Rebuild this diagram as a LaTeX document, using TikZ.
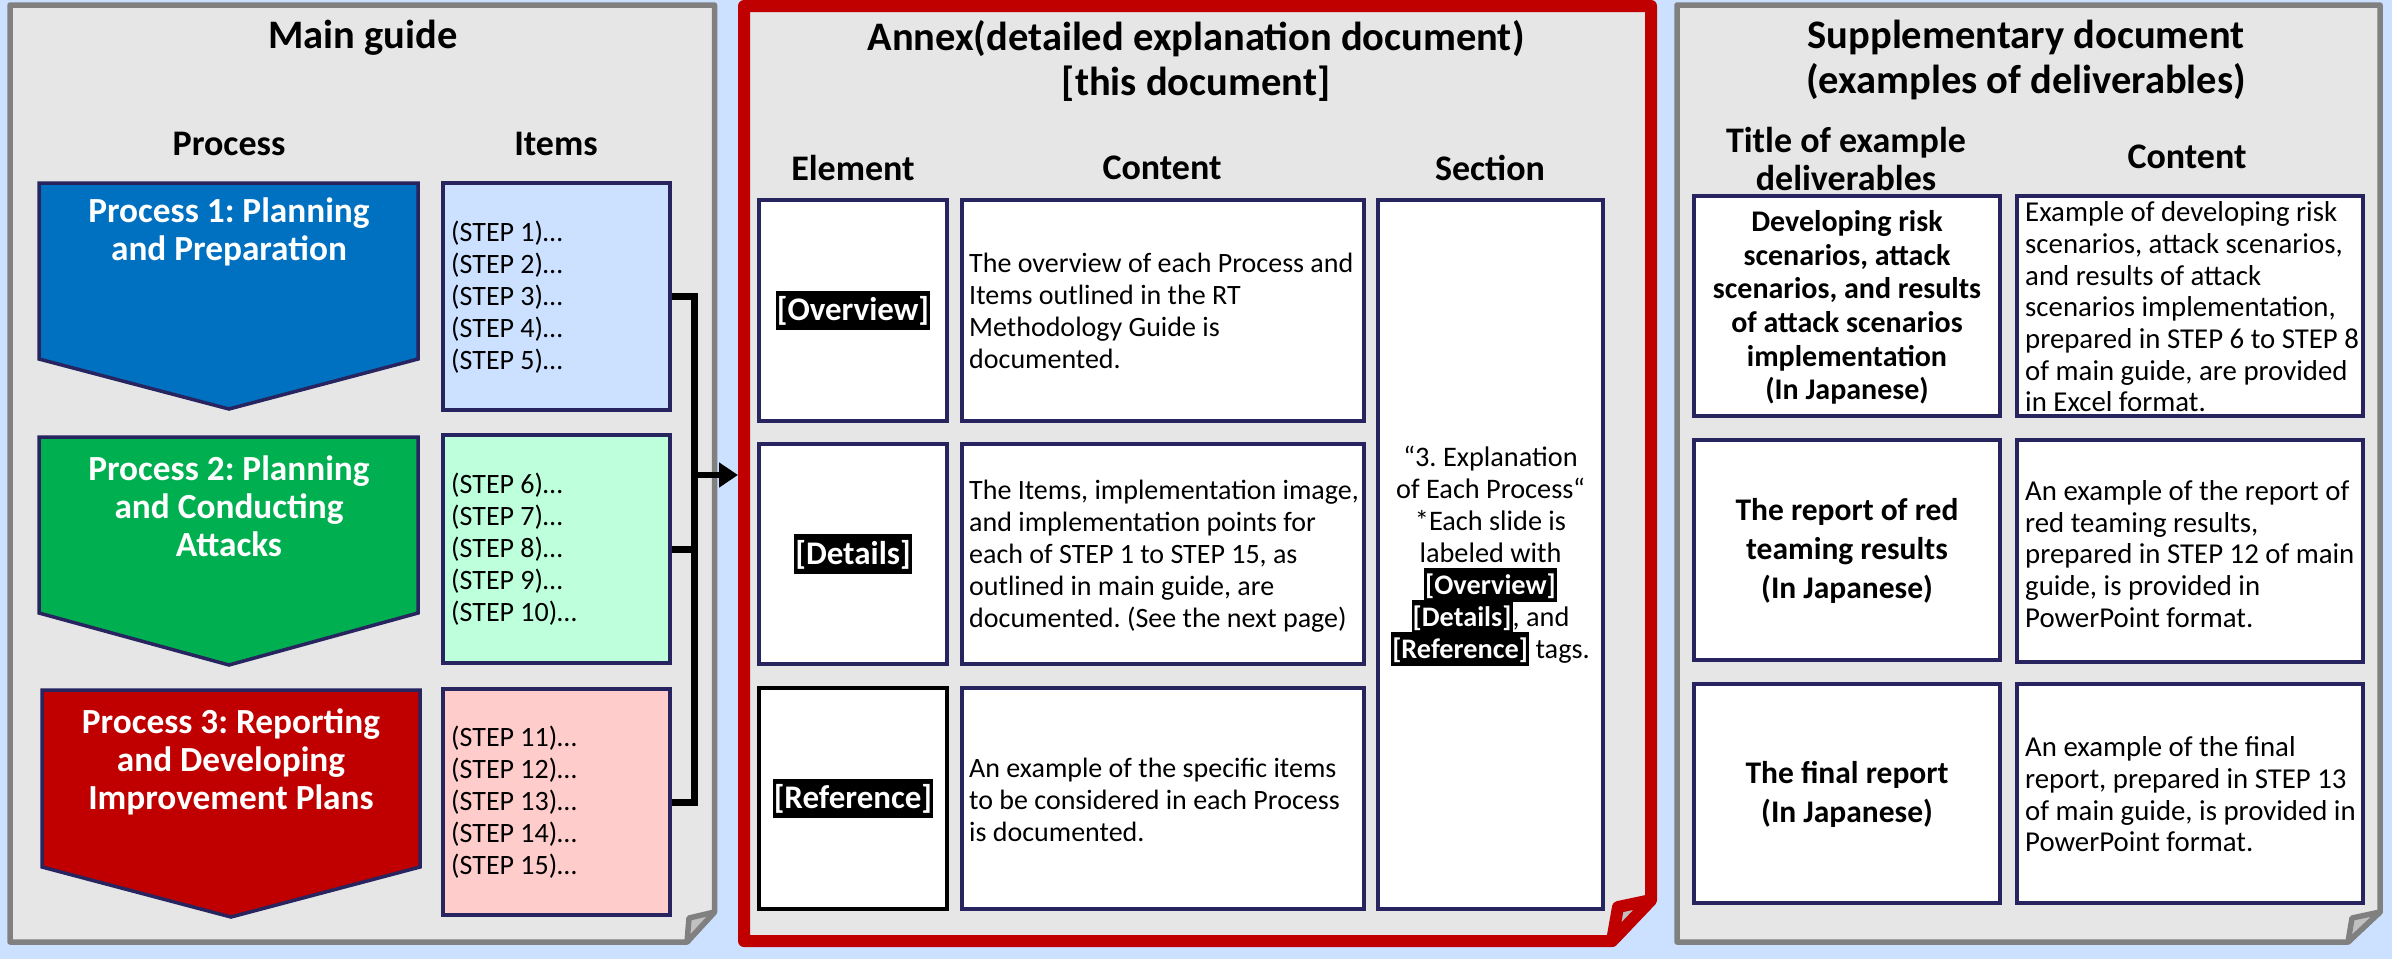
\documentclass[tikz,border=0pt]{standalone}
\usepackage{fontspec}
\setmainfont{Carlito}
\usetikzlibrary{arrows.meta}
\frenchspacing

\definecolor{bgblue}{RGB}{204,224,255}
\definecolor{panelgray}{RGB}{230,230,230}
\definecolor{panelline}{RGB}{128,128,128}
\definecolor{flapgray}{RGB}{192,192,192}
\definecolor{annexred}{RGB}{192,0,0}
\definecolor{navy}{RGB}{40,36,96}
\definecolor{procblue}{RGB}{0,112,192}
\definecolor{procgreen}{RGB}{0,176,80}
\definecolor{procred}{RGB}{192,0,0}
\definecolor{itemblue}{RGB}{204,224,255}
\definecolor{itemgreen}{RGB}{190,255,220}
\definecolor{itempink}{RGB}{255,204,204}

% white bold text on a black highlight
\newcommand\tagmark[1]{{\setlength{\fboxsep}{1pt}\colorbox{black}{\rule[-0.26em]{0pt}{1.15em}\textcolor{white}{\bfseries #1}}}}
% keep a fixed baseline distance even where highlights touch
\newcommand\fixedlines{\lineskiplimit=-100pt\relax}

\begin{document}
\begin{tikzpicture}[x=1pt,y=-1pt,
  panel/.style={fill=panelgray, draw=panelline, line width=5.5pt, line join=round},
  flap/.style={fill=flapgray, draw=panelline, line width=5.5pt, line join=round},
  redpanel/.style={fill=panelgray, draw=annexred, line width=12pt, line join=round},
  redflap/.style={fill=flapgray, draw=annexred, line width=12pt, line join=round},
  cell/.style={draw=navy, line width=3.5pt, fill=white, inner sep=0pt},
  proc/.style={draw=navy, line width=3.5pt, line join=miter},
  ttl/.style={font=\fontsize{40.5}{45}\selectfont\bfseries, align=center, inner sep=0pt},
  hdr/.style={font=\fontsize{36}{38}\selectfont\bfseries, align=center, inner sep=0pt},
  proctxt/.style={font=\fontsize{35.3}{38}\selectfont\bfseries, text=white, align=center, inner sep=0pt},
  body/.style={font=\fontsize{28}{32}\selectfont, align=left, inner sep=0pt, anchor=west},
  bodywide/.style={body, font=\fontsize{28.8}{31.7}\selectfont},
  secttxt/.style={font=\fontsize{28.3}{32}\selectfont\fixedlines, align=center, inner sep=0pt},
  tagtxt/.style={font=\fontsize{33}{38}\selectfont\bfseries, inner sep=0pt},
  dtitle/.style={font=\fontsize{30}{33.7}\selectfont\bfseries, align=center, inner sep=0pt},
  dtitlebig/.style={font=\fontsize{31.5}{39}\selectfont\bfseries, align=center, inner sep=0pt},
  wire/.style={line width=7pt, line join=miter}
]
% page
\fill[bgblue] (0,0) rectangle (2392,959);
\useasboundingbox (0,0) rectangle (2392,959);

% ---------------- Main guide ----------------
\draw[panel] (10,5) -- (714.5,5) -- (714.5,912) -- (687,942) -- (10,942) -- cycle;
\draw[flap] (714.5,912) -- (689,918) -- (687,942) -- cycle;

\node[ttl] (mgT) at (363,38) {Main guide};
\node[hdr] (mgP) at (229,144) {Process};
\node[hdr] (mgI) at (556,144) {Items};

\draw[proc, fill=procblue]  (39,183) -- (418,183) -- (418,359) -- (229,409) -- (39,359) -- cycle;
\draw[proc, fill=procgreen] (39,437) -- (418,437) -- (418,613) -- (229,665) -- (39,613) -- cycle;
\draw[proc, fill=procred]   (42,690) -- (420,690) -- (420,867) -- (231,917) -- (42,867) -- cycle;

\node[proctxt] (p1t) at (229,232) {Process 1: Planning\\and Preparation};
\node[proctxt] (p2t) at (229,506) {Process 2: Planning\\and Conducting\\Attacks};
\node[proctxt] (p3t) at (231,761.5) {Process 3: Reporting\\and Developing\\Improvement Plans};

\node[cell, fill=itemblue,  minimum width=227pt, minimum height=227pt] (i1) at (556.5,296.5) {};
\node[cell, fill=itemgreen, minimum width=227pt, minimum height=228pt] (i2) at (556.5,549) {};
\node[cell, fill=itempink,  minimum width=227pt, minimum height=226pt] (i3) at (556.5,802) {};

\node[body] (i1t) at (451,297.5) {(STEP 1)…\\(STEP 2)…\\(STEP 3)…\\(STEP 4)…\\(STEP 5)…};
\node[body] (i2t) at (451,549.5) {(STEP 6)…\\(STEP 7)…\\(STEP 8)…\\(STEP 9)…\\(STEP 10)…};
\node[body] (i3t) at (451,802.5) {(STEP 11)…\\(STEP 12)…\\(STEP 13)…\\(STEP 14)…\\(STEP 15)…};

% ---------------- Annex ----------------
\draw[redpanel] (744,6) -- (1651,6) -- (1651,900) -- (1612,941) -- (744,941) -- cycle;
\draw[redflap] (1651,900) -- (1618,907) -- (1612,941) -- cycle;

\node[ttl] (axT) at (1196,60.5) {Annex(detailed explanation document)\\{}[this document]};
\node[hdr] (axE) at (853,168) {Element};
\node[hdr] (axC) at (1162,168) {Content};
\node[hdr] (axS) at (1490,168) {Section};

\node[cell, minimum width=188pt, minimum height=221pt] (e1) at (853,310.5) {};
\node[cell, minimum width=188pt, minimum height=220pt] (e2) at (853,554) {};
\node[cell, draw=black, minimum width=188pt, minimum height=221pt] (e3) at (853,798.5) {};
\node[cell, minimum width=402pt, minimum height=221pt] (c1) at (1163,310.5) {};
\node[cell, minimum width=402pt, minimum height=220pt] (c2) at (1163,554) {};
\node[cell, minimum width=402pt, minimum height=221pt] (c3) at (1163,798.5) {};
\node[cell, minimum width=225pt, minimum height=709pt] (s1) at (1490.5,554.5) {};

\node[tagtxt] (e1t) at (e1) {\tagmark{[Overview]}};
\node[tagtxt] (e2t) at (e2) {\tagmark{[Details]}};
\node[tagtxt] (e3t) at (e3) {\tagmark{[Reference]}};

\node[body] (c1t) at (969,310.5) {The overview of each Process and\\Items outlined in the RT\\Methodology Guide is\\documented.};
\node[body] (c2t) at (969,556) {The Items, implementation image,\\and implementation points for\\each of STEP 1 to STEP 15, as\\outlined in main guide, are\\documented. (See the next page)};
\node[body] (c3t) at (969,800) {An example of the specific items\\to be considered in each Process\\is documented.};

\node[secttxt] (s1t) at (1490.5,556) {“3. Explanation\\of Each Process“\\*Each slide is\\labeled with\\\tagmark{[Overview]}\\\tagmark{[Details]}, and\\\tagmark{[Reference]} tags.};

% ---------------- Supplementary document ----------------
\draw[panel] (1677,5) -- (2380,5) -- (2380,912) -- (2348,942) -- (1677,942) -- cycle;
\draw[flap] (2380,912) -- (2352,918) -- (2348,942) -- cycle;

\node[ttl] (sdT) at (2026,60) {Supplementary document\\(examples of deliverables)};
\node[hdr] (sdH1) at (1846,159) {Title of example\\deliverables};
\node[hdr] (sdH2) at (2187,157) {Content};

\node[cell, minimum width=306pt, minimum height=220pt] (d1) at (1847,306) {};
\node[cell, minimum width=306pt, minimum height=220pt] (d2) at (1847,550) {};
\node[cell, minimum width=306pt, minimum height=219pt] (d3) at (1847,793.5) {};
\node[cell, minimum width=346pt, minimum height=220pt] (f1) at (2190,306) {};
\node[cell, minimum width=346pt, minimum height=222pt] (f2) at (2190,551) {};
\node[cell, minimum width=346pt, minimum height=219pt] (f3) at (2190,793.5) {};

\node[dtitle] (d1t) at (1847,307.5) {Developing risk\\scenarios, attack\\scenarios, and results\\of attack scenarios\\implementation\\(In Japanese)};
\node[dtitlebig] (d2t) at (1847,551) {The report of red\\teaming results\\(In Japanese)};
\node[dtitlebig] (d3t) at (1847,794) {The final report\\(In Japanese)};

\node[bodywide] (f1t) at (2025,307) {Example of developing risk\\scenarios, attack scenarios,\\and results of attack\\scenarios implementation,\\prepared in STEP 6 to STEP 8\\of main guide, are provided\\in Excel format.};
\node[bodywide] (f2t) at (2025,554) {An example of the report of\\red teaming results,\\prepared in STEP 12 of main\\guide, is provided in\\PowerPoint format.};
\node[bodywide] (f3t) at (2025,794.5) {An example of the final\\report, prepared in STEP 13\\of main guide, is provided in\\PowerPoint format.};

% ---------------- connector from the items into the annex ----------------
\coordinate (bus) at (694.5,0);
\coordinate (annexin) at (738,475);
\draw[wire] (i1.east) -- (i1.east -| bus) -- (i3.east -| bus) -- (i3.east);
\draw[wire] (i2.east) -- (i2.east -| bus);
\draw[line width=6pt, -{Triangle[length=19pt,width=24pt]}] (annexin -| bus) -- (annexin);
\end{tikzpicture}
\end{document}
